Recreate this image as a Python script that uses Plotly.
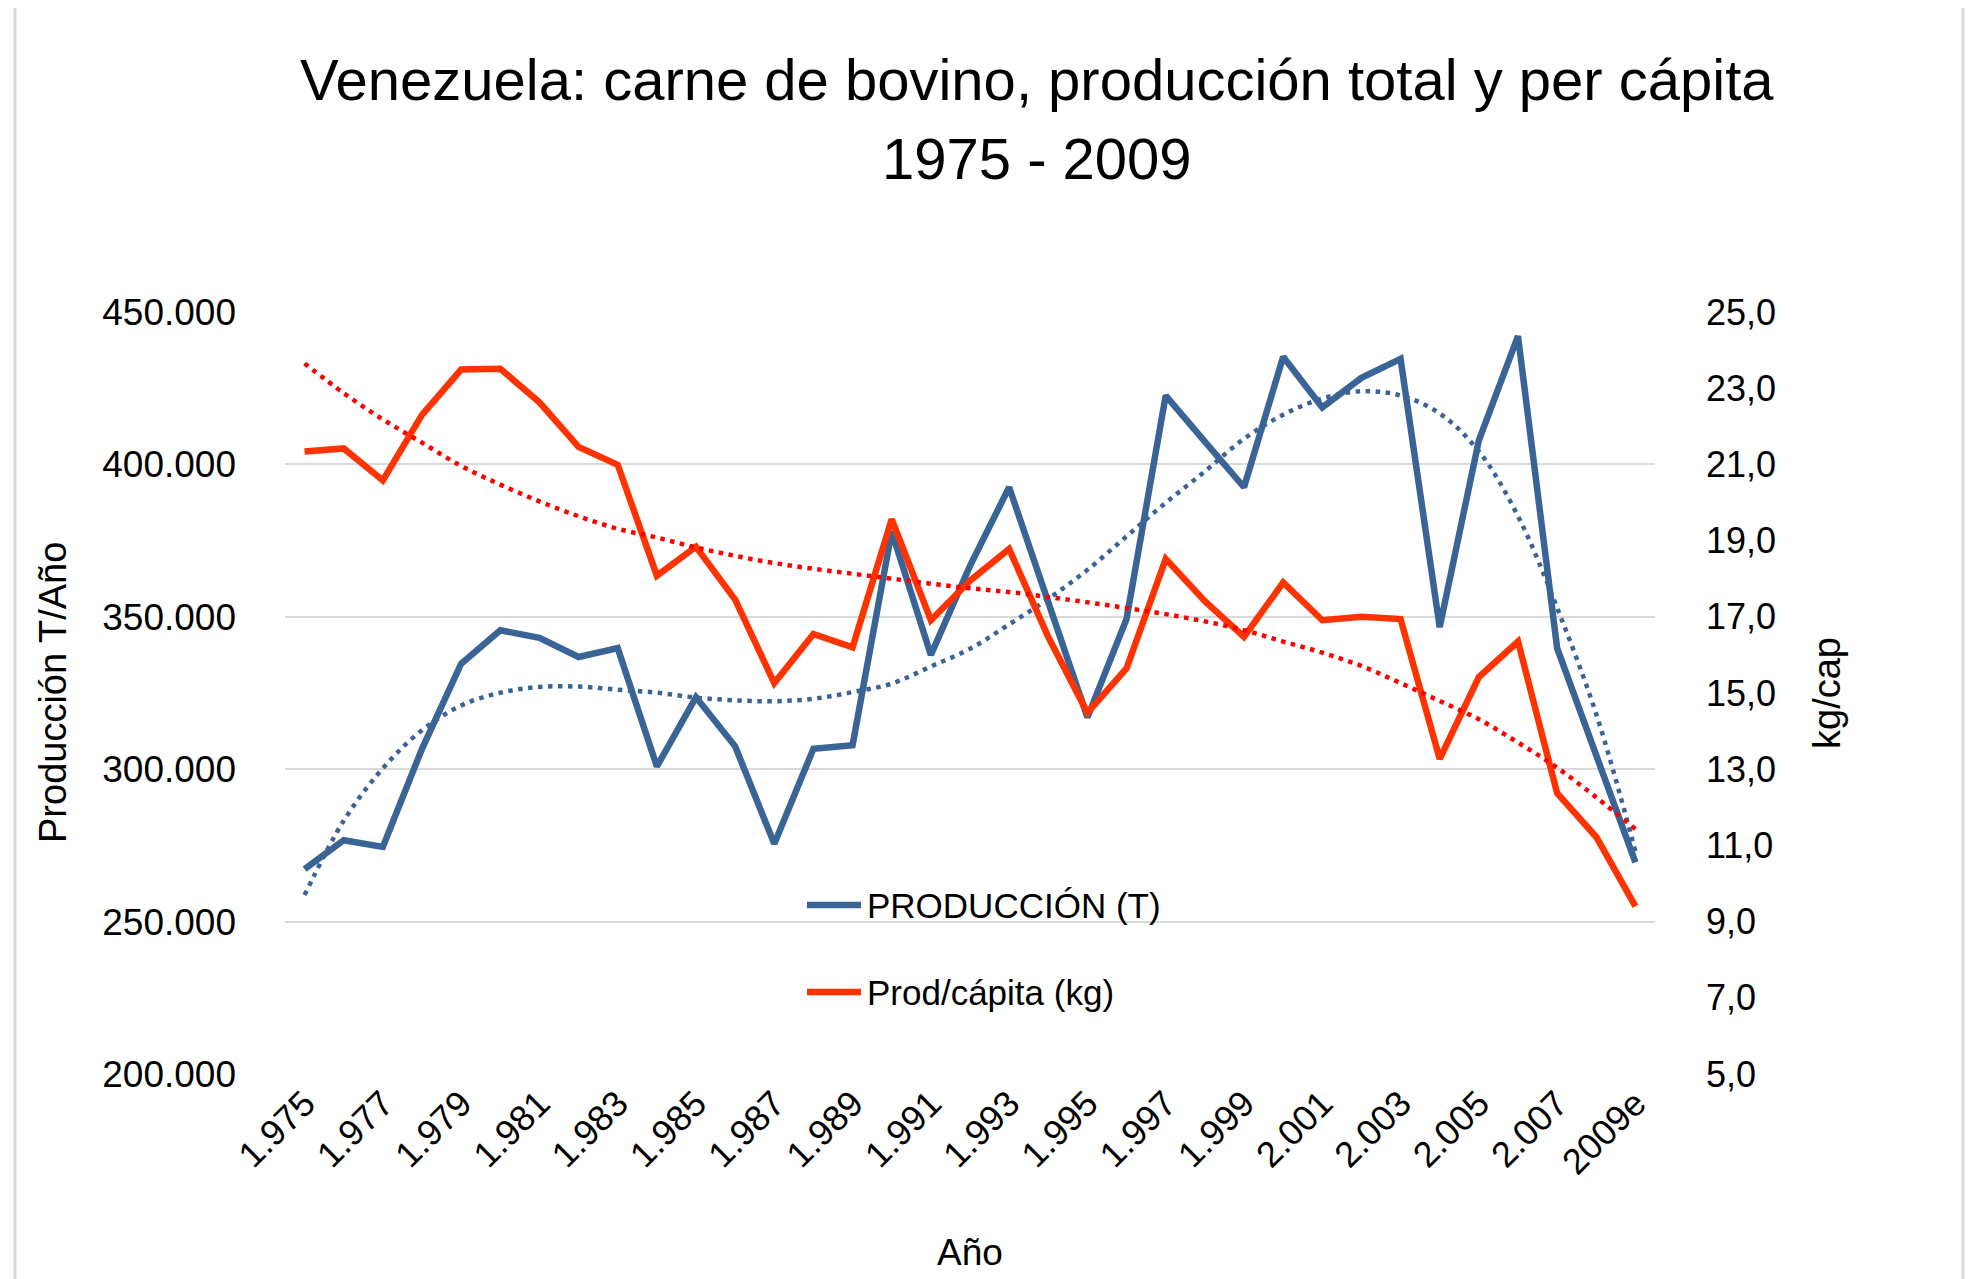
import plotly.graph_objects as go

years = ["1.975", "1.976", "1.977", "1.978", "1.979", "1.980", "1.981", "1.982", "1.983",
         "1.984", "1.985", "1.986", "1.987", "1.988", "1.989", "1.990", "1.991", "1.992",
         "1.993", "1.994", "1.995", "1.996", "1.997", "1.998", "1.999", "2.000", "2.001",
         "2.002", "2.003", "2.004", "2.005", "2.006", "2.007", "2.008", "2009e"]

produccion = [267200, 276700, 274500, 306700, 334600, 345600, 343100, 336800, 339700,
              300900, 323600, 307500, 275500, 306700, 307900, 378000, 337500, 366700,
              392500, 354400, 317000, 349300, 422600, 407500, 392500, 435300, 418700,
              428400, 434600, 346600, 407900, 442100, 339700, 304500, 269400]

per_capita = [21.34, 21.42, 20.58, 22.30, 23.49, 23.51, 22.63, 21.46, 20.99,
              18.08, 18.84, 17.45, 15.26, 16.55, 16.20, 19.56, 16.91, 17.95,
              18.78, 16.47, 14.48, 15.65, 18.52, 17.41, 16.47, 17.90, 16.91,
              17.00, 16.94, 13.27, 15.42, 16.35, 12.37, 11.22, 9.40]

# polynomial trendlines as drawn in the chart
tendencia_produccion = [258700, 283100, 300300, 312800, 320900, 325100, 327000, 327100, 326100,
                        325100, 323500, 322600, 322300, 323100, 325300, 328100, 333700, 339500,
                        347500, 355900, 365400, 376400, 387400, 397700, 408400, 416300, 421600,
                        424000, 422600, 416700, 404300, 383000, 352900, 318000, 273000]

tendencia_per_capita = [23.65, 22.87, 22.18, 21.57, 20.96, 20.47, 20.03, 19.64, 19.31,
                        19.08, 18.82, 18.60, 18.41, 18.26, 18.13, 18.00, 17.87, 17.75,
                        17.65, 17.52, 17.38, 17.23, 17.07, 16.88, 16.65, 16.35, 16.06,
                        15.71, 15.26, 14.79, 14.31, 13.70, 13.04, 12.26, 11.43]

tick_labels = years[::2]

BLUE = "#3B6496"
ORANGE = "#FF3300"
RED = "#FF0000"
FONT = "Liberation Sans, Arial, sans-serif"
DOT = "4.5px,5.5px"

fig = go.Figure()
fig.add_trace(go.Scatter(x=years, y=produccion, mode="lines", name="PRODUCCIÓN (T)",
                         line=dict(color=BLUE, width=6.5), yaxis="y", showlegend=False))
fig.add_trace(go.Scatter(x=years, y=per_capita, mode="lines", name="Prod/cápita (kg)",
                         line=dict(color=ORANGE, width=6.5), yaxis="y2", showlegend=False))
fig.add_trace(go.Scatter(x=years, y=tendencia_produccion, mode="lines", line_shape="spline",
                         line=dict(color=BLUE, width=4.5, dash=DOT), yaxis="y", showlegend=False))
fig.add_trace(go.Scatter(x=years, y=tendencia_per_capita, mode="lines", line_shape="spline",
                         line=dict(color=RED, width=4.5, dash=DOT), yaxis="y2", showlegend=False))

OFF = 8  # default page body margin
W, H = 1977 - OFF, 1279 - OFF
L, R, T, B = 277, 322, 304, 205
pw, ph = W - L - R, H - T - B


def px(x):
    return (x - OFF - L) / pw


def py(y):
    return (H - B - (y - OFF)) / ph


annotations = [
    dict(text="Venezuela: carne de bovino, producción total y per cápita", x=px(1037), y=py(80),
         xref="paper", yref="paper", showarrow=False, font=dict(size=58, color="black", family=FONT),
         xanchor="center", yanchor="middle"),
    dict(text="1975 - 2009", x=px(1037), y=py(158), xref="paper", yref="paper", showarrow=False,
         font=dict(size=58, color="black", family=FONT), xanchor="center", yanchor="middle"),
    dict(text="Producción T/Año", x=px(53), y=0.5, xref="paper", yref="paper", showarrow=False,
         textangle=-90, xanchor="center", yanchor="middle",
         font=dict(size=38, color="black", family=FONT)),
    dict(text="kg/cap", x=px(1827), y=0.5, xref="paper", yref="paper", showarrow=False,
         textangle=-90, xanchor="center", yanchor="middle",
         font=dict(size=38, color="black", family=FONT)),
    dict(text="Año", x=0.5, y=py(1252), xref="paper", yref="paper", showarrow=False,
         xanchor="center", yanchor="middle",
         font=dict(size=37, color="black", family=FONT)),
    dict(text="PRODUCCIÓN (T)", x=px(865), y=py(905), xref="paper", yref="paper", showarrow=False,
         xanchor="left", yanchor="middle", font=dict(size=35, color="black", family=FONT)),
    dict(text="Prod/cápita (kg)", x=px(865), y=py(992), xref="paper", yref="paper", showarrow=False,
         xanchor="left", yanchor="middle", font=dict(size=35, color="black", family=FONT)),
]

shapes = [
    dict(type="line", xref="paper", yref="paper", x0=px(807), x1=px(861), y0=py(905), y1=py(905),
         line=dict(color=BLUE, width=6.5)),
    dict(type="line", xref="paper", yref="paper", x0=px(807), x1=px(861), y0=py(992), y1=py(992),
         line=dict(color=ORANGE, width=6.5)),
    dict(type="rect", xref="paper", yref="paper", x0=px(15), x1=px(1963), y0=py(1320), y1=py(5),
         line=dict(color="#D9D9D9", width=3), layer="below"),
]

fig.update_layout(
    width=W, height=H,
    margin=dict(l=L, r=R, t=T, b=B),
    paper_bgcolor="white", plot_bgcolor="white",
    separators=",.",
    font=dict(family=FONT, size=36, color="black"),
    showlegend=False,
    xaxis=dict(type="category", categoryorder="array", categoryarray=years,
               range=[-0.5, len(years) - 0.5],
               tickmode="array", tickvals=tick_labels, ticktext=tick_labels,
               tickangle=-45, tickfont=dict(size=36, family=FONT, color="black"),
               showgrid=False, showline=False, zeroline=False, ticks=""),
    yaxis=dict(range=[200000, 450000], dtick=50000, tick0=200000, tickformat=",d",
               showgrid=True, gridcolor="#D9D9D9", gridwidth=2, zeroline=False, showline=False,
               ticklabelstandoff=48, tickfont=dict(size=37, family=FONT, color="black")),
    yaxis2=dict(range=[5, 25], dtick=2, tick0=5, tickformat=".1f", overlaying="y", side="right",
                showgrid=False, zeroline=False, showline=False, ticklabelstandoff=50,
                tickfont=dict(size=36, family=FONT, color="black")),
    annotations=annotations,
    shapes=shapes,
)

fig.write_html("out.html")
